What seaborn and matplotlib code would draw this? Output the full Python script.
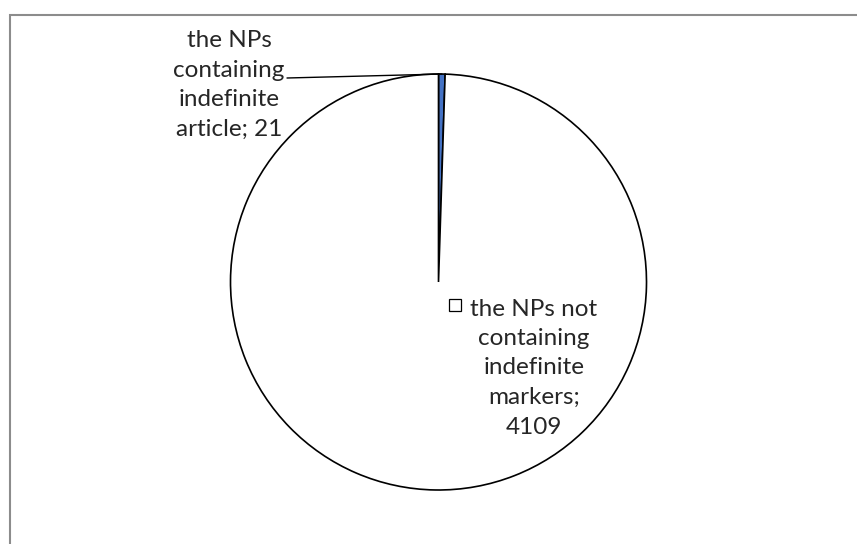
import numpy as np
import matplotlib
matplotlib.use("Agg")
import matplotlib.pyplot as plt
import seaborn as sns
from matplotlib.patches import Rectangle

# data
labels = ["the NPs\ncontaining\nindefinite\narticle; 21",
          "the NPs not\ncontaining\nindefinite\nmarkers;\n4109"]
values = [21, 4109]
colors = ["#4472C4", "#FFFFFF"]

sns.set_style("white")
plt.rcParams["font.family"] = ["Lato", "DejaVu Sans"]

W, H = 857, 544
fig = plt.figure(figsize=(W / 100, H / 100), dpi=100)

# chart border
fig.patches.append(Rectangle((9.5 / W, -0.05), 1.0, 1 - 14.5 / H + 0.05,
                             transform=fig.transFigure, fill=False,
                             edgecolor="#8c8c8c", linewidth=1.5))

cx, cy, r = 438.5, 282, 208
ax = fig.add_axes([(cx - r) / W, (H - cy - r) / H, 2 * r / W, 2 * r / H])
ax.axis("off")

wedges, _ = ax.pie(values, colors=colors, startangle=90, counterclock=False,
                   radius=1.0, wedgeprops=dict(edgecolor="black", linewidth=1.2))
ax.set_xlim(-1, 1)
ax.set_ylim(-1, 1)

# label positions from pixel layout
def px(x, y):
    return (x - cx) / r, (cy - y) / r

fs = 17.5
ls = 1.5
lx, ly = px(229, 85)
ax.text(lx, ly, labels[0], ha="center", va="center", fontsize=fs,
        linespacing=ls, clip_on=False)

# leader line to the small slice
mid = np.deg2rad(90 - 360 * values[0] / sum(values) / 2)
sx, sy = px(287, 78)
ax.plot([sx, np.cos(mid) * 1.0], [sy, np.sin(mid) * 1.0], color="black",
        lw=1.0, clip_on=False)

l2x, l2y = px(534, 368)
ax.text(l2x, l2y, labels[1], ha="center", va="center", fontsize=fs,
        linespacing=ls, clip_on=False)
kx, ky = px(455, 305)
ax.plot([kx], [ky], marker="s", markersize=9, markerfacecolor="white",
        markeredgecolor="black", markeredgewidth=0.9, clip_on=False)

fig.savefig("out.png", dpi=100)
